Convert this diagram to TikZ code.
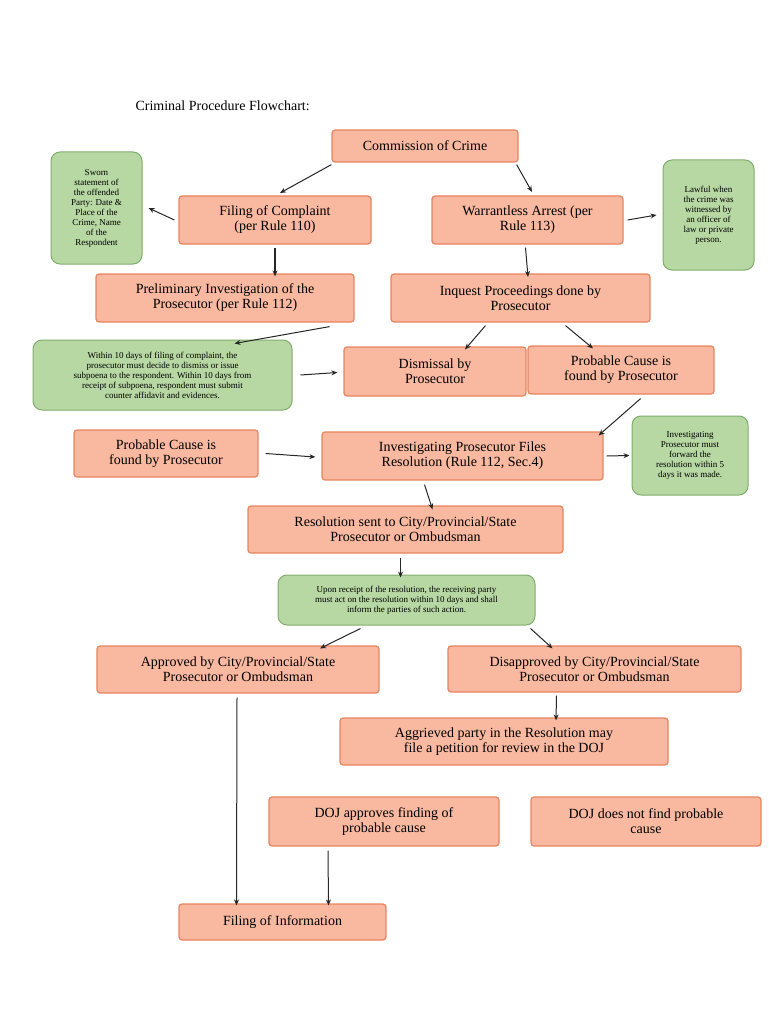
\documentclass[tikz,border=0pt]{standalone}
\usepackage{fontspec}
\setmainfont{Liberation Serif}
\usetikzlibrary{arrows.meta}
\definecolor{ofill}{HTML}{F9B8A0}
\definecolor{odraw}{HTML}{E8845F}
\definecolor{gfill}{HTML}{B7D7A3}
\definecolor{gdraw}{HTML}{7FAE6B}
\begin{document}
\begin{tikzpicture}[x=1pt,y=-1pt,
 ob/.style={draw=odraw,fill=ofill,line width=1.2pt,rounded corners=3pt,font=\fontsize{14}{15}\selectfont,align=center,inner sep=0pt},
 gb/.style={draw=gdraw,fill=gfill,line width=1pt,rounded corners=9pt,font=\fontsize{9}{10}\selectfont,align=center,inner sep=0pt},
 ar/.style={-{Stealth[length=6pt,width=5pt]},line width=1pt,black!85}]
\useasboundingbox (0,0) rectangle (768,1024);
\node[anchor=west,font=\fontsize{14}{15}\selectfont] (title) at (132,106) {Criminal Procedure Flowchart:};
\newcommand{\bx}[7]{\node[#1,minimum width=#5-#3,minimum height=#6-#4] (#2) at ({(#3+#5)/2},{(#4+#6)/2}) {#7};}
\bx{ob}{cc}{332}{130}{518}{162}{Commission of Crime}
\bx{gb}{sw}{51}{152}{142}{264}{Sworn\\statement of\\the offended\\Party: Date \&\\Place of the\\Crime, Name\\of the\\Respondent}
\bx{ob}{fc}{179}{196}{371}{244}{Filing of Complaint\\(per Rule 110)}
\bx{ob}{wa}{432}{196}{623}{244}{Warrantless Arrest (per\\Rule 113)}
\bx{gb}{lw}{663}{160}{754}{270}{Lawful when\\the crime was\\witnessed by\\an officer of\\law or private\\person.}
\bx{ob}{pi}{96}{274}{354}{322}{Preliminary Investigation of the\\Prosecutor (per Rule 112)}
\bx{ob}{iq}{391}{274}{650}{322}{Inquest Proceedings done by\\Prosecutor}
\bx{gb}{wt}{33}{340}{292}{410}{Within 10 days of filing of complaint, the\\prosecutor must decide to dismiss or issue\\subpoena to the respondent. Within 10 days from\\receipt of subpoena, respondent must submit\\counter affidavit and evidences.}
\bx{ob}{ds}{344}{347}{526}{396}{Dismissal by\\Prosecutor}
\bx{ob}{pr}{528}{346}{714}{394}{Probable Cause is\\found by Prosecutor}
\bx{ob}{pl}{74}{430}{258}{477}{Probable Cause is\\found by Prosecutor}
\bx{ob}{ip}{322}{432}{603}{480}{Investigating Prosecutor Files\\Resolution (Rule 112, Sec.4)}
\bx{gb}{ig}{632}{416}{748}{495}{Investigating\\Prosecutor must\\forward the\\resolution within 5\\days it was made.}
\bx{ob}{rs}{248}{506}{563}{553}{Resolution sent to City/Provincial/State\\Prosecutor or Ombudsman}
\bx{gb}{up}{278}{575}{535}{625}{Upon receipt of the resolution, the receiving party\\must act on the resolution within 10 days and shall\\inform the parties of such action.}
\bx{ob}{ap}{97}{646}{379}{693}{Approved by City/Provincial/State\\Prosecutor or Ombudsman}
\bx{ob}{dp}{448}{646}{741}{692}{Disapproved by City/Provincial/State\\Prosecutor or Ombudsman}
\bx{ob}{ag}{340}{718}{668}{765}{Aggrieved party in the Resolution may\\file a petition for review in the DOJ}
\bx{ob}{dj}{269}{797}{499}{846}{DOJ approves finding of\\probable cause}
\bx{ob}{dn}{531}{797}{761}{846}{DOJ does not find probable\\cause}
\bx{ob}{fi}{179}{904}{386}{940}{Filing of Information}
\coordinate (a1) at (330,163); \coordinate (a2) at (280,193);
\draw[ar] (cc.south west) ++(0,2) -- (280,193);
\draw[ar] (cc.south east) ++(-2,2) -- (532,192);
\draw[ar] (fc.west) ++(-4,0) -- ([xshift=6pt]sw.east);
\draw[ar] (wa.east) ++(4,0) -- ([xshift=-6pt]lw.east -| lw.west);
\draw[ar,line width=1.6pt] (fc.south) ++(0,3) -- ([yshift=-3pt]fc.south |- pi.north);
\draw[ar] (wa.south) ++(-2,3) -- ([yshift=-3pt]528,274);
\draw[ar] ([xshift=-25pt,yshift=-4pt]pi.south east) -- ([xshift=-58pt,yshift=-4pt]wt.north east);
\draw[ar] ([xshift=-35pt,yshift=-3pt]iq.south) -- ([xshift=30pt,yshift=-3pt]ds.north);
\draw[ar] ([xshift=45pt,yshift=-3pt]iq.south) -- ([xshift=-28pt,yshift=-3pt]pr.north);
\draw[ar] ([xshift=8pt]wt.east) -- ([xshift=-6pt,yshift=-1pt]ds.west);
\draw[ar] ([xshift=-74pt,yshift=-4pt]pr.south east) -- ([xshift=-5pt,yshift=-4pt]ip.north east);
\draw[ar] ([xshift=7pt]pl.east) -- ([xshift=-6pt,yshift=-1pt]ip.west);
\draw[ar] ([xshift=3pt]ip.east) -- ([xshift=-2pt]ig.west);
\draw[ar] ([xshift=-38pt,yshift=-4pt]ip.south) -- ([xshift=-30pt,yshift=-4pt]ip.south |- rs.north);
\draw[ar] ([xshift=-5pt,yshift=-4pt]rs.south) -- ([xshift=-5pt,yshift=-3pt]rs.south |- up.north);
\draw[ar] ([xshift=-46pt,yshift=-3pt]up.south) -- ([xshift=82pt,yshift=-3pt]ap.north);
\draw[ar] ([xshift=124pt,yshift=-3pt]up.south) -- ([xshift=-42pt,yshift=-3pt]dp.north);
\draw[ar] ([xshift=-38pt,yshift=-3pt]dp.south) -- ([xshift=52pt,yshift=-3pt]ag.north);
\draw[ar] ([xshift=-1pt,yshift=-4pt]ap.south) -- ([xshift=-46pt,yshift=-2pt]fi.north);
\draw[ar] ([xshift=-56pt,yshift=-4pt]dj.south) -- ([xshift=46pt,yshift=-2pt]fi.north);
\end{tikzpicture}
\end{document}
